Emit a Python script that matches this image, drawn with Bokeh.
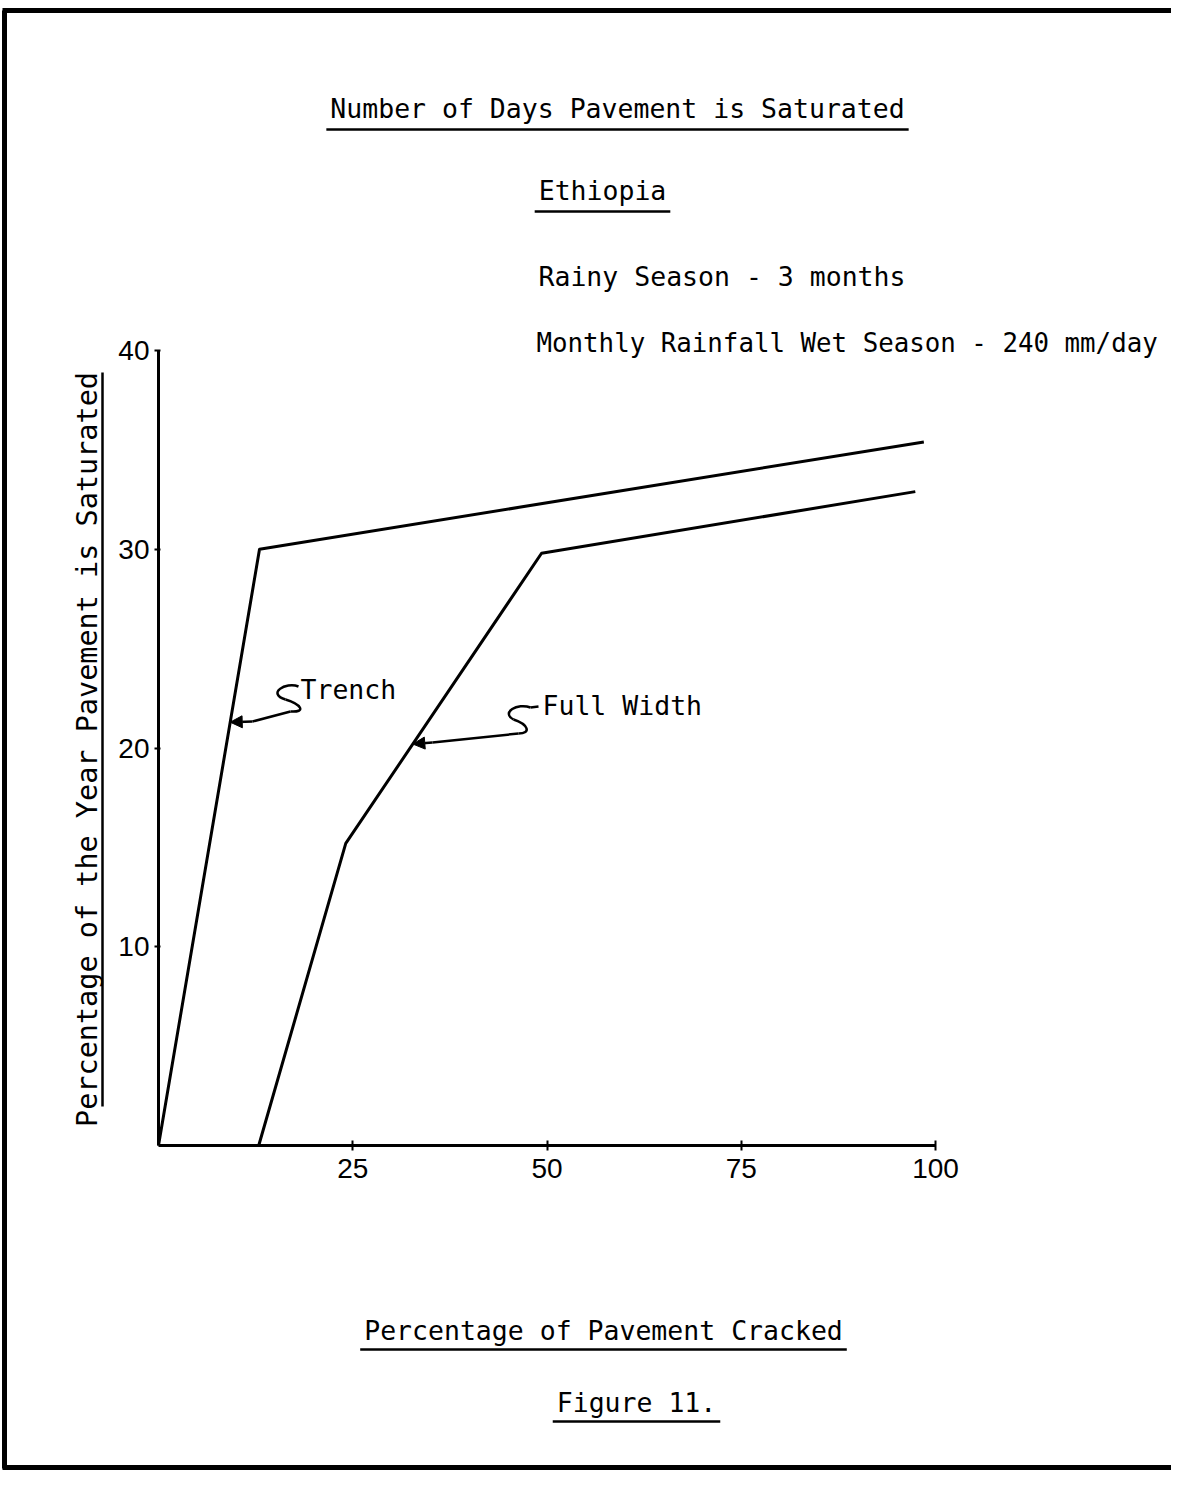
import numpy as np
from bokeh.plotting import figure
from bokeh.models import Label, Arrow, NormalHead, LinearAxis, FixedTicker, Range1d
from bokeh.embed import file_html
from bokeh.resources import INLINE

# ---------------- data ----------------
trench_x = [0, 13.0, 98.5]
trench_y = [0, 30.0, 35.4]
full_x = [12.9, 24.1, 49.3, 97.4]
full_y = [0, 15.2, 29.8, 32.9]
x_ticks = [25, 50, 75, 100]
y_ticks = [10, 20, 30, 40]
title_lines = ["Number of Days Pavement is Saturated", "Ethiopia"]
note_lines = ["Rainy Season - 3 months", "Monthly Rainfall Wet Season - 240 mm/day"]
x_title = "Percentage of Pavement Cracked"
y_title = "Percentage of the Year Pavement is Saturated"
fig_caption = "Figure 11."
series_names = ["Trench", "Full Width"]

# ---------------- layout (picture pixels -> data) ----------------
W, H = 1171, 1470
X0, XS = 158, 7.77      # px of x=0, px per unit
Y0, YS = 1145, 19.875   # px of y=0, px per unit

def X(px):
    return (px - X0) / XS

def Y(py):
    return (Y0 - py) / YS

p = figure(width=W, height=H, output_backend="svg", toolbar_location=None,
           x_axis_location=None, y_axis_location=None,
           x_range=Range1d(-X0 / XS, (W - X0) / XS),
           y_range=Range1d(-(H - Y0) / YS, Y0 / YS),
           min_border=0, outline_line_color=None,
           background_fill_color="white", border_fill_color="white")
p.grid.visible = False

MONO = "DejaVu Sans Mono"
TICKF = "Liberation Sans"

xa = LinearAxis(fixed_location=0, bounds=(0, 100), ticker=FixedTicker(ticks=x_ticks),
                axis_line_width=3, axis_line_color="black",
                major_tick_in=5, major_tick_out=5, major_tick_line_width=2,
                minor_tick_line_color=None,
                major_label_text_font=TICKF, major_label_text_font_size="28px",
                major_label_text_color="black", major_label_standoff=8)
p.add_layout(xa, "below")
ya = LinearAxis(fixed_location=0, bounds=(0, 40), ticker=FixedTicker(ticks=y_ticks),
                axis_line_width=3, axis_line_color="black",
                major_tick_in=2, major_tick_out=4, major_tick_line_width=2,
                minor_tick_line_color=None,
                major_label_text_font=TICKF, major_label_text_font_size="28px",
                major_label_text_color="black", major_label_standoff=5)
p.add_layout(ya, "left")

# data lines
p.line(trench_x, trench_y, line_color="black", line_width=3, line_join="round")
p.line(full_x, full_y, line_color="black", line_width=3, line_join="round")

FSZ = 26.5
FS = f"{FSZ}px"
ADV = 0.602 * FSZ

def lab(text, px, py, align="left", fs=FS, angle=0):
    p.add_layout(Label(x=X(px), y=Y(py), text=text, text_font=MONO, text_font_size=fs,
                       text_align=align, text_baseline="alphabetic", text_color="black",
                       angle=angle))

def uline(text, cx, py, lw=2.5, pad=4):
    half = len(text) * ADV / 2 + pad
    p.line([X(cx - half), X(cx + half)], [Y(py), Y(py)], line_color="black", line_width=lw)

# titles (anchor = visual centre of the capitals)
lab(title_lines[0], 617, 108, "center"); uline(title_lines[0], 617, 129)
lab(title_lines[1], 602, 190, "center"); uline(title_lines[1], 602, 211)
lab(note_lines[0], 538, 276)
lab(note_lines[1], 536, 342, fs="25.8px")
lab(x_title, 603, 1330, "center"); uline(x_title, 603, 1349)
lab(fig_caption, 636, 1402, "center"); uline(fig_caption, 636, 1421)

# y title (rotated)
lab(y_title, 87, 749, "center", fs="28.5px", angle=np.pi / 2)
p.line([X(102), X(102)], [Y(1106), Y(372)], line_color="black", line_width=2.5)

# series labels with S leaders
lab(series_names[0], 300, 689)
lab(series_names[1], 542, 705)

t_tip_y = 21.3
t_tip_x = float(np.interp(t_tip_y, trench_y, trench_x))
f_tip_y = 20.2
f_tip_x = float(np.interp(f_tip_y, full_y, full_x))

def s_curve(a, m, b, c1, c2, c3, c4):
    p.bezier(x0=[X(a[0]), X(m[0])], y0=[Y(a[1]), Y(m[1])],
             x1=[X(m[0]), X(b[0])], y1=[Y(m[1]), Y(b[1])],
             cx0=[X(c1[0]), X(c3[0])], cy0=[Y(c1[1]), Y(c3[1])],
             cx1=[X(c2[0]), X(c4[0])], cy1=[Y(c2[1]), Y(c4[1])],
             line_color="black", line_width=2.5)

# Trench leader
s_curve((298, 686), (285, 699), (290, 711), (285, 681), (266, 693), (301, 704), (306, 712))
p.line([X(290), X(252)], [Y(711), Y(721)], line_color="black", line_width=2.5)
p.add_layout(Arrow(end=NormalHead(size=12, fill_color="black", line_color="black"),
                   x_start=X(252), y_start=Y(721), x_end=t_tip_x, y_end=t_tip_y,
                   line_width=2.5, line_color="black"))

# Full Width leader
p.line([X(530), X(538)], [Y(707), Y(706)], line_color="black", line_width=2.5)
s_curve((530, 707), (513, 719), (518, 733), (517, 702), (500, 712), (528, 724), (531, 733))
p.line([X(518), X(432)], [Y(733), Y(742)], line_color="black", line_width=2.5)
p.add_layout(Arrow(end=NormalHead(size=12, fill_color="black", line_color="black"),
                   x_start=X(432), y_start=Y(742), x_end=f_tip_x, y_end=f_tip_y,
                   line_width=2.5, line_color="black"))

# page frame
p.line([X(2), X(1179)], [Y(10), Y(10)], line_color="black", line_width=5)
p.line([X(4), X(4)], [Y(10), Y(1468)], line_color="black", line_width=5)
p.line([X(2), X(1179)], [Y(1467), Y(1467)], line_color="black", line_width=5)

open("out.html", "w").write(file_html(p, INLINE))
